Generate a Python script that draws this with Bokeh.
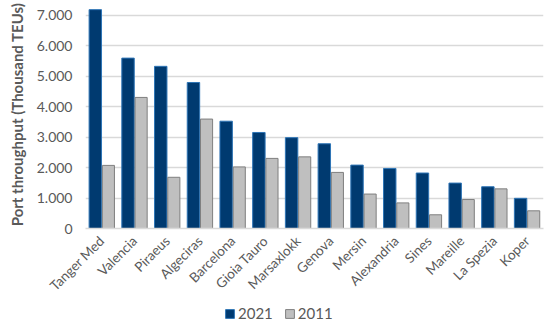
from bokeh.plotting import figure
from bokeh.models import FactorRange, Range1d, FixedTicker, Legend, LegendItem
from bokeh.layouts import column
from bokeh.transform import dodge
from bokeh.embed import file_html
from bokeh.resources import INLINE
from math import pi

ports = ["Tanger Med", "Valencia", "Piraeus", "Algeciras", "Barcelona", "Gioia Tauro",
         "Marsaxlokk", "Genova", "Mersin", "Alexandria", "Sines", "Mareille", "La Spezia", "Koper"]
v2021 = [7180, 5590, 5320, 4790, 3520, 3150, 2980, 2780, 2080, 1970, 1820, 1490, 1370, 990]
v2011 = [2070, 4300, 1680, 3590, 2020, 2300, 2350, 1840, 1130, 840, 450, 950, 1300, 580]
tick_values = [0, 1000, 2000, 3000, 4000, 5000, 6000, 7000]
tick_labels = ["0", "1.000", "2.000", "3.000", "4.000", "5.000", "6.000", "7.000"]
series_names = ["2021", "2011"]

FONT = "Lato"
GREY_TXT = "#595959"
C_A, C_A_LINE = "#003A70", "#2E75B6"
C_B, C_B_LINE = "#BFBFBF", "#7F7F7F"

p = figure(width=545, height=302, output_backend="svg", toolbar_location=None,
           x_range=FactorRange(*ports, range_padding=0), y_range=Range1d(0, 7480),
           min_border_left=85, min_border_right=2, min_border_top=0, min_border_bottom=73)
p.outline_line_color = None

src = dict(port=ports, a=v2021, b=v2011)
p.vbar(x=dodge("port", -0.2, range=p.x_range), top="a", width=0.38, source=src,
       fill_color=C_A, line_color=C_A_LINE, line_width=1)
p.vbar(x=dodge("port", 0.2, range=p.x_range), top="b", width=0.37, source=src,
       fill_color=C_B, line_color=C_B_LINE, line_width=1)

p.yaxis.ticker = FixedTicker(ticks=tick_values)
p.yaxis.major_label_overrides = {v: l for v, l in zip(tick_values, tick_labels)}
p.yaxis.axis_line_color = None
p.yaxis.major_tick_line_color = None
p.yaxis.minor_tick_line_color = None
p.yaxis.major_tick_out = 0
p.yaxis.major_tick_in = 0
p.yaxis.major_label_standoff = 13
p.yaxis.major_label_text_font = FONT
p.yaxis.major_label_text_font_size = "14px"
p.yaxis.major_label_text_color = GREY_TXT
p.yaxis.axis_label = "Port throughput (Thousand TEUs)"
p.yaxis.axis_label_text_font = FONT
p.yaxis.axis_label_text_font_size = "15px"
p.yaxis.axis_label_text_font_style = "bold"
p.yaxis.axis_label_text_color = GREY_TXT
p.yaxis.axis_label_standoff = 8

p.xaxis.axis_line_color = "#D9D9D9"
p.xaxis.axis_line_width = 1.5
p.xaxis.major_tick_line_color = None
p.xaxis.minor_tick_line_color = None
p.xaxis.major_tick_out = 0
p.xaxis.major_tick_in = 0
p.xaxis.major_label_orientation = pi / 4
p.xaxis.major_label_text_font = FONT
p.xaxis.major_label_text_font_size = "13.5px"
p.xaxis.major_label_text_color = GREY_TXT
p.xaxis.major_label_standoff = 10

p.xgrid.grid_line_color = None
p.ygrid.grid_line_color = "#D9D9D9"
p.ygrid.grid_line_width = 1.5

# legend in a small strip below (placeholder glyphs lie outside the strip's visible range)
lg = figure(width=545, height=22, output_backend="svg", toolbar_location=None,
            x_range=Range1d(0, 1), y_range=Range1d(0, 1), x_axis_type=None, y_axis_type=None,
            min_border=0, min_border_left=85, min_border_right=2)
lg.outline_line_color = None
lg.xgrid.grid_line_color = None
lg.ygrid.grid_line_color = None
ra = lg.rect(x=[-5], y=[-5], width=0.1, height=0.1, fill_color=C_A, line_color=C_A_LINE)
rb = lg.rect(x=[-5], y=[-5], width=0.1, height=0.1, fill_color=C_B, line_color=C_B_LINE)
legend = Legend(items=[LegendItem(label=series_names[0], renderers=[ra]),
                       LegendItem(label=series_names[1], renderers=[rb])],
                orientation="horizontal", location=(139, 2), padding=0, margin=0, spacing=11,
                glyph_width=11, glyph_height=11, label_text_font=FONT, label_text_font_size="15px",
                label_text_color=GREY_TXT, border_line_color=None, background_fill_alpha=0,
                label_standoff=3)
lg.add_layout(legend, "center")

open("out.html", "w").write(file_html(column(p, lg, spacing=0), INLINE))
